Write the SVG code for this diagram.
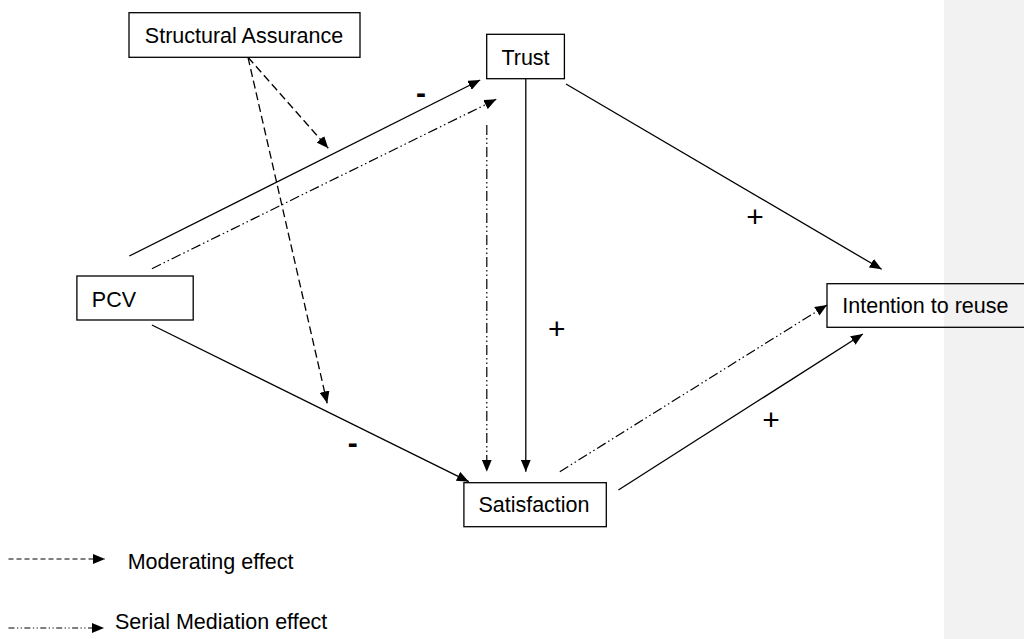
<svg xmlns="http://www.w3.org/2000/svg" width="1024" height="639" viewBox="0 0 1024 639">
<style>
.box{fill:#fff;stroke:#000;stroke-width:1.3}
.lbl{font-family:"Liberation Sans",Arial,sans-serif;font-size:21.5px;fill:#000}
.sign{font-family:"Liberation Sans",Arial,sans-serif;fill:#000;text-anchor:middle}
.solid{stroke:#000;stroke-width:1.3;fill:none;marker-end:url(#ah)}
.dash{stroke:#000;stroke-width:1.3;fill:none;stroke-dasharray:8 4;marker-end:url(#ah)}
.dd{stroke:#000;stroke-width:1.2;fill:none;stroke-dasharray:10 3 1.5 3 1.5 3;marker-end:url(#ah)}
</style>
<defs>
<marker id="ah" markerUnits="userSpaceOnUse" markerWidth="12" markerHeight="10" refX="12" refY="5" orient="auto">
<path d="M0,0 L12,5 L0,10 z" fill="#000"/>
</marker>
<marker id="ahs" markerUnits="userSpaceOnUse" markerWidth="12" markerHeight="10" refX="12" refY="5" orient="auto">
<path d="M0,0 L12,5 L0,10 z" fill="#000"/>
</marker>
</defs>
<rect x="0" y="0" width="1024" height="639" fill="#fff"/>
<rect x="944" y="0" width="80" height="639" fill="#f2f2f2"/>

<g id="connectors">
<line class="solid" x1="129.3" y1="256" x2="480.2" y2="80"/>
<line class="dd" x1="151.9" y1="268.7" x2="496.3" y2="99.3"/>
<line class="dash" x1="248" y1="57.3" x2="328.3" y2="148.3"/>
<line class="dash" x1="248" y1="57.3" x2="327.2" y2="403.3"/>
<line class="dd" x1="486.8" y1="125" x2="486.8" y2="471.7"/>
<line class="solid" x1="525.8" y1="78.7" x2="525.8" y2="471.7"/>
<line class="solid" x1="566" y1="84" x2="881.7" y2="269.3"/>
<line class="solid" x1="151.9" y1="325" x2="468.8" y2="481.7"/>
<line class="dd" x1="559.8" y1="471.7" x2="827" y2="305"/>
<line class="solid" x1="618.4" y1="490" x2="862.9" y2="334"/>
<text class="sign" x="421" y="103.3" font-size="30" font-weight="bold">-</text>
<text class="sign" x="352.8" y="453" font-size="30" font-weight="bold">-</text>
<text class="sign" x="755" y="226.5" font-size="30">+</text>
<text class="sign" x="556.7" y="338.8" font-size="30">+</text>
<text class="sign" x="771" y="429.8" font-size="30">+</text>
</g>

<g id="node-structural-assurance">
<rect class="box" x="129" y="12.7" width="231" height="44.6"/>
<text class="lbl" x="244" y="43" text-anchor="middle">Structural Assurance</text>
</g>
<g id="node-trust">
<rect class="box" x="486.7" y="34.3" width="77.7" height="44.4"/>
<text class="lbl" x="525.5" y="65" text-anchor="middle">Trust</text>
</g>
<g id="node-pcv">
<rect class="box" x="76.9" y="276" width="116.3" height="44"/>
<text class="lbl" x="91.8" y="306.7">PCV</text>
</g>
<g id="node-satisfaction">
<rect class="box" x="463.9" y="482.7" width="142.4" height="44"/>
<text class="lbl" x="478.4" y="511.7">Satisfaction</text>
</g>
<g id="node-intention">
<rect x="827" y="283.7" width="210" height="43.6" fill="none" stroke="#000" stroke-width="1.3"/>
<text class="lbl" x="842.3" y="313.3">Intention to reuse</text>
</g>

<g id="legend">
<line x1="8.5" y1="559" x2="105" y2="559" stroke="#000" stroke-width="1.2" stroke-dasharray="5 3" marker-end="url(#ahs)"/>
<text class="lbl" x="127.7" y="568.5">Moderating effect</text>
<line x1="8.5" y1="628" x2="104" y2="628" stroke="#000" stroke-width="1.2" stroke-dasharray="6 2.5 1.2 2.5 1.2 2.5" marker-end="url(#ahs)"/>
<text class="lbl" x="115" y="629">Serial Mediation effect</text>
</g>
</svg>
